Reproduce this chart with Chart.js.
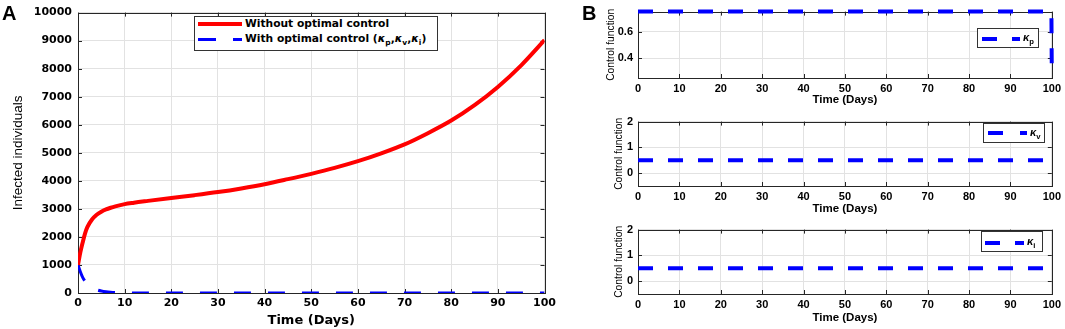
<!DOCTYPE html>
<html>
<head>
<meta charset="utf-8">
<script src="https://cdn.jsdelivr.net/npm/chart.js@4"></script>
<style>
  body { margin: 0; background: #fff; width: 1065px; height: 329px; position: relative; overflow: hidden; font-family: 'Liberation Sans', Arial, sans-serif; }
  canvas { position: absolute; }
  .panel { position: absolute; font-weight: bold; font-size: 20px; line-height: 1; }
  .box { position: absolute; border: 1px solid #333; background: #fff; box-sizing: border-box; }
  .sw { position: absolute; }
  .txt { position: absolute; font-weight: bold; white-space: nowrap; line-height: 1; color: #000; }
  .txt i { font-style: italic; }
  .txt sub { font-size: 70%; vertical-align: -3px; }
</style>
</head>
<body>

<canvas id="chartA" width="560" height="329" style="left:0;top:0"></canvas>
<canvas id="chartP" width="505" height="108" style="left:560px;top:0"></canvas>
<canvas id="chartV" width="505" height="108" style="left:560px;top:110px"></canvas>
<canvas id="chartI" width="505" height="111" style="left:560px;top:218px"></canvas>

<div class="panel" style="left:2px;top:3px">A</div>
<div class="panel" style="left:582px;top:3px">B</div>

<!-- legend A -->
<div class="box" style="left:194px;top:16px;width:244px;height:35px"></div>
<div class="sw" style="left:198px;top:22px;width:44px;height:4px;background:#ff0000"></div>
<div class="sw" style="left:198px;top:38px;width:18px;height:3px;background:#0000ff"></div>
<div class="sw" style="left:233px;top:38px;width:9px;height:3px;background:#0000ff"></div>
<div class="txt" style="left:245px;top:19px;font-family:'DejaVu Sans';font-size:10.7px">Without optimal control</div>
<div class="txt" style="left:245px;top:34px;font-family:'DejaVu Sans';font-size:10.7px">With optimal control (<i>κ</i><sub>p</sub>,<i>κ</i><sub>v</sub>,<i>κ</i><sub>i</sub>)</div>

<!-- legend B top -->
<div class="box" style="left:977px;top:28px;width:62px;height:20px"></div>
<div class="sw" style="left:982px;top:37px;width:15px;height:4px;background:#0000ff"></div>
<div class="sw" style="left:1012px;top:37px;width:8px;height:4px;background:#0000ff"></div>
<div class="txt" style="left:1023px;top:32px;font-size:11px"><i>κ</i><sub>p</sub></div>

<!-- legend B middle -->
<div class="box" style="left:983px;top:123px;width:62px;height:20px"></div>
<div class="sw" style="left:988px;top:131px;width:15px;height:4px;background:#0000ff"></div>
<div class="sw" style="left:1020px;top:131px;width:7px;height:4px;background:#0000ff"></div>
<div class="txt" style="left:1030px;top:127px;font-size:11px"><i>κ</i><sub>v</sub></div>

<!-- legend B bottom -->
<div class="box" style="left:981px;top:231px;width:62px;height:21px"></div>
<div class="sw" style="left:985px;top:241px;width:15px;height:4px;background:#0000ff"></div>
<div class="sw" style="left:1015px;top:241px;width:9px;height:4px;background:#0000ff"></div>
<div class="txt" style="left:1027px;top:236px;font-size:11px"><i>κ</i><sub>i</sub></div>

<script>
// data

// panel A : infected individuals
const days = [0, 0.5, 1, 1.5, 2, 3, 4, 5, 6, 7, 8, 10, 12, 15, 20, 25, 30, 35, 40, 45, 50, 55, 60, 65, 70, 75, 80, 85, 90, 95, 100];
const withoutControl = [1000, 1450, 1800, 2120, 2350, 2620, 2790, 2900, 2980, 3040, 3090, 3170, 3220, 3285, 3390, 3490, 3600, 3730, 3880, 4060, 4250, 4460, 4700, 4980, 5300, 5700, 6150, 6700, 7350, 8120, 9020];
const withControl = [1000, 760, 560, 420, 320, 190, 115, 70, 42, 25, 15, 6, 3, 1, 0, 0, 0, 0, 0, 0, 0, 0, 0, 0, 0, 0, 0, 0, 0, 0, 0];

// panel B : control functions
const controlDays = [0, 99.9, 100];
const kappaP = [0.75, 0.75, 0.25];
const kappaV = [0.5, 0.5, 0.5];
const kappaI = [0.5, 0.5, 0.5];

// tick labels
const timeTicks = [0, 10, 20, 30, 40, 50, 60, 70, 80, 90, 100];
const infectedTicks = [0, 1000, 2000, 3000, 4000, 5000, 6000, 7000, 8000, 9000, 10000];
const kappaPTicks = [0.4, 0.6];
const kappaTicks = [0, 1, 2];

const pts = (xs, ys) => xs.map((x, i) => ({x: x, y: ys[i]}));
const setTicks = vals => scale => { scale.ticks = vals.map(v => ({value: v})); };
const plain = v => String(v);

const gridColor = '#e2e2e2';
const axisColor = '#262626';

// matlab style box with inward ticks
const frame = {
  id: 'frame',
  beforeDatasetsDraw(chart) {
    const {ctx, chartArea: a, scales} = chart;
    ctx.save();
    ctx.strokeStyle = axisColor;
    ctx.lineWidth = 1;
    ctx.beginPath();
    scales.x.ticks.forEach(t => {
      const px = Math.round(scales.x.getPixelForValue(t.value)) + 0.5;
      ctx.moveTo(px, a.bottom); ctx.lineTo(px, a.bottom - 4);
      ctx.moveTo(px, a.top); ctx.lineTo(px, a.top + 4);
    });
    scales.y.ticks.forEach(t => {
      const py = Math.round(scales.y.getPixelForValue(t.value)) + 0.5;
      ctx.moveTo(a.left, py); ctx.lineTo(a.left + 4, py);
      ctx.moveTo(a.right, py); ctx.lineTo(a.right - 4, py);
    });
    ctx.stroke();
    ctx.strokeRect(Math.round(a.left) + 0.5, Math.round(a.top) + 0.5, Math.round(a.right - a.left), Math.round(a.bottom - a.top));
    ctx.restore();
  }
};

function timeAxis(fontFamily, tickSize, titleSize, height, titlePad) {
  return {
    type: 'linear', min: 0, max: 100,
    afterBuildTicks: setTicks(timeTicks),
    afterFit: s => { s.height = height; },
    grid: {color: gridColor, drawTicks: false},
    border: {display: false},
    ticks: {padding: 4, color: '#000', maxRotation: 0, callback: plain,
            font: {family: fontFamily, weight: 'bold', size: tickSize}},
    title: {display: true, text: 'Time (Days)', color: '#000', padding: {top: 0, bottom: titlePad},
            font: {family: fontFamily, weight: 'bold', size: titleSize}}
  };
}

// panel A
new Chart(document.getElementById('chartA'), {
  type: 'line',
  data: {
    datasets: [
      {label: 'Without optimal control', data: pts(days, withoutControl), borderColor: '#ff0000', borderWidth: 4,
       pointRadius: 0, cubicInterpolationMode: 'monotone', fill: false},
      {label: 'With optimal control', data: pts(days, withControl), borderColor: '#0000ff', borderWidth: 3,
       borderDash: [17, 17], pointRadius: 0, cubicInterpolationMode: 'monotone', fill: false}
    ]
  },
  options: {
    responsive: false, animation: false, events: [],
    layout: {padding: {top: 9, right: 14, left: 0, bottom: 0}},
    plugins: {legend: {display: false}, tooltip: {enabled: false}},
    scales: {
      x: timeAxis('DejaVu Sans', 11, 13, 36, 1),
      y: {
        min: 0, max: 10000,
        afterBuildTicks: setTicks(infectedTicks),
        afterFit: s => { s.width = 78; },
        grid: {color: gridColor, drawTicks: false},
        border: {display: false},
        ticks: {padding: 6, color: '#000', callback: plain, font: {family: 'DejaVu Sans', weight: 'bold', size: 11}},
        title: {display: true, text: 'Infected individuals', color: '#000', padding: {top: 10, bottom: 0},
                font: {family: 'Liberation Sans', size: 13.5}}
      }
    }
  },
  plugins: [frame]
});

// panel B
function controlChart(id, values, yMin, yMax, yTicks, topPad, xHeight, titlePad, yTitlePad) {
  return new Chart(document.getElementById(id), {
    type: 'line',
    data: {
      datasets: [{data: pts(controlDays, values), borderColor: '#0000ff', borderWidth: 4, borderDash: [15, 15],
                  pointRadius: 0, tension: 0, fill: false, clip: 3}]
    },
    options: {
      responsive: false, animation: false, events: [],
      layout: {padding: {top: topPad, right: 10, left: 0, bottom: 0}},
      plugins: {legend: {display: false}, tooltip: {enabled: false}},
      scales: {
        x: timeAxis('Liberation Sans', 11, 11.5, xHeight, titlePad),
        y: {
          min: yMin, max: yMax,
          afterBuildTicks: setTicks(yTicks),
          afterFit: s => { s.width = 78; },
          grid: {color: gridColor, drawTicks: false},
          border: {display: false},
          ticks: {padding: 5, color: '#000', callback: plain, font: {family: 'Liberation Sans', weight: 'bold', size: 11}},
          title: {display: true, text: 'Control function', color: '#000', padding: {top: yTitlePad, bottom: 0},
                  font: {family: 'Liberation Sans', size: 10.3}}
        }
      }
    },
    plugins: [frame]
  });
}

controlChart('chartP', kappaP, 0.25, 0.75, kappaPTicks, 11, 30, 1, 45);
controlChart('chartV', kappaV, -0.5, 2, kappaTicks, 10, 32, 2, 53);
controlChart('chartI', kappaI, -0.5, 2, kappaTicks, 10, 35, 4, 53);
</script>
</body>
</html>
